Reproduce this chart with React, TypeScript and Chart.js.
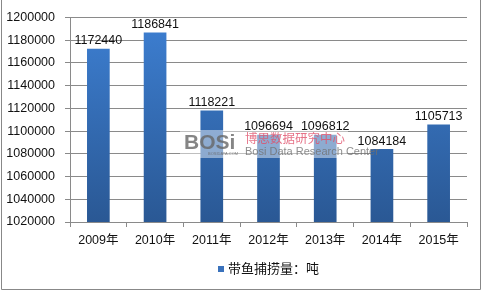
import React, { useEffect, useRef } from "react";
import { Chart, registerables } from "chart.js";

Chart.register(...registerables);

// Annual hairtail catch, tonnes
const years = ["2009年", "2010年", "2011年", "2012年", "2013年", "2014年", "2015年"];
const catchTonnes = [1172440, 1186841, 1118221, 1096694, 1096812, 1084184, 1105713];
const seriesName = "带鱼捕捞量：吨";

const yMin = 1020000;
const yMax = 1200000;
const yStep = 20000;

const FONT = "'Liberation Sans', 'Noto Sans CJK SC', sans-serif";
const GRID = "#8a8a8a";

// Value labels above each bar
const valueLabels = {
  id: "valueLabels",
  afterDatasetsDraw(chart: any) {
    const { ctx } = chart;
    const meta = chart.getDatasetMeta(0);
    ctx.save();
    ctx.font = `12.5px ${FONT}`;
    ctx.fillStyle = "#111";
    ctx.textAlign = "center";
    ctx.textBaseline = "middle";
    meta.data.forEach((bar: any, i: number) => {
      ctx.fillText(String(catchTonnes[i]), bar.x, bar.y - 8);
    });
    ctx.restore();
  },
};

// Brand watermark across the middle of the plot
const watermark = {
  id: "watermark",
  afterDatasetsDraw(chart: any) {
    const { ctx } = chart;
    ctx.save();
    ctx.fillStyle = "rgba(255,255,255,0.45)";
    ctx.fillRect(180, 130, 168, 28);
    ctx.globalAlpha = 0.8;
    ctx.textBaseline = "alphabetic";
    ctx.textAlign = "left";
    ctx.fillStyle = "#666";
    ctx.font = `bold 21px 'Liberation Sans', sans-serif`;
    ctx.fillText("BOSi", 184, 149);
    ctx.font = `4px 'Liberation Sans', sans-serif`;
    ctx.fillText("BOSIDATA.COM", 208, 155);
    ctx.fillStyle = "#e0506a";
    ctx.font = `12.5px 'Noto Sans CJK SC', sans-serif`;
    ctx.fillText("博思数据研究中心", 245, 143);
    ctx.fillStyle = "#707070";
    ctx.font = `11px 'Liberation Sans Narrow', 'Liberation Sans', sans-serif`;
    ctx.fillText("Bosi Data Research Center", 245, 155);
    ctx.restore();
  },
};

// Legend entry and outer frame
const frameAndLegend = {
  id: "frameAndLegend",
  afterDraw(chart: any) {
    const { ctx } = chart;
    ctx.save();
    const area = chart.chartArea;
    const cx = (area.left + area.right) / 2;
    ctx.font = `13px 'Noto Sans CJK SC', sans-serif`;
    const tw = ctx.measureText(seriesName).width;
    const box = 6;
    const gap = 4;
    const total = box + gap + tw;
    const x0 = cx - total / 2;
    const yMid = 268;
    ctx.fillStyle = "#3a72bc";
    ctx.fillRect(x0, yMid - box / 2 + 1, box, box);
    ctx.fillStyle = "#111";
    ctx.textBaseline = "middle";
    ctx.textAlign = "left";
    ctx.fillText(seriesName, x0 + box + gap, yMid);

    ctx.strokeStyle = "#888";
    ctx.lineWidth = 1;
    ctx.beginPath();
    ctx.moveTo(1.5, 0);
    ctx.lineTo(1.5, 289.5);
    ctx.lineTo(480.5, 289.5);
    ctx.lineTo(480.5, 0);
    ctx.stroke();
    ctx.restore();
  },
};

export default function App() {
  const ref = useRef<HTMLCanvasElement | null>(null);

  useEffect(() => {
    if (!ref.current) return;
    const chart = new Chart(ref.current, {
      type: "bar",
      data: {
        labels: years,
        datasets: [
          {
            label: seriesName,
            data: catchTonnes,
            barPercentage: 0.4,
            categoryPercentage: 1,
            backgroundColor: (c: any) => {
              const area = c.chart.chartArea;
              if (!area) return "#3a72bc";
              const g = c.chart.ctx.createLinearGradient(0, area.top, 0, area.bottom);
              g.addColorStop(0, "#3d7fd2");
              g.addColorStop(1, "#2a5894");
              return g;
            },
            borderWidth: 0,
          },
        ],
      },
      options: {
        responsive: false,
        animation: false,
        layout: { padding: { left: 0, right: 16, top: 16, bottom: 39 } },
        plugins: {
          legend: { display: false },
          tooltip: { enabled: false },
        },
        scales: {
          x: {
            offset: true,
            grid: {
              offset: true,
              drawOnChartArea: false,
              drawTicks: true,
              tickLength: 5,
              color: GRID,
            },
            border: { color: GRID },
            ticks: { color: "#111", font: { family: FONT, size: 12.5 }, padding: 6 },
            afterFit: (s: any) => {
              s.height = 30;
            },
          },
          y: {
            min: yMin,
            max: yMax,
            grid: { color: GRID, tickLength: 5 },
            border: { color: GRID },
            ticks: {
              stepSize: yStep,
              color: "#111",
              font: { family: FONT, size: 12.5 },
              padding: 10,
              callback: (v: any) => String(v),
            },
            afterFit: (s: any) => {
              s.width = 70;
            },
          },
        },
      },
      plugins: [valueLabels, watermark, frameAndLegend],
    });
    return () => chart.destroy();
  }, []);

  return (
    <div style={{ position: "absolute", left: 0, top: 0, width: 483, height: 291, background: "#fff" }}>
      <canvas ref={ref} width={483} height={291} />
    </div>
  );
}
